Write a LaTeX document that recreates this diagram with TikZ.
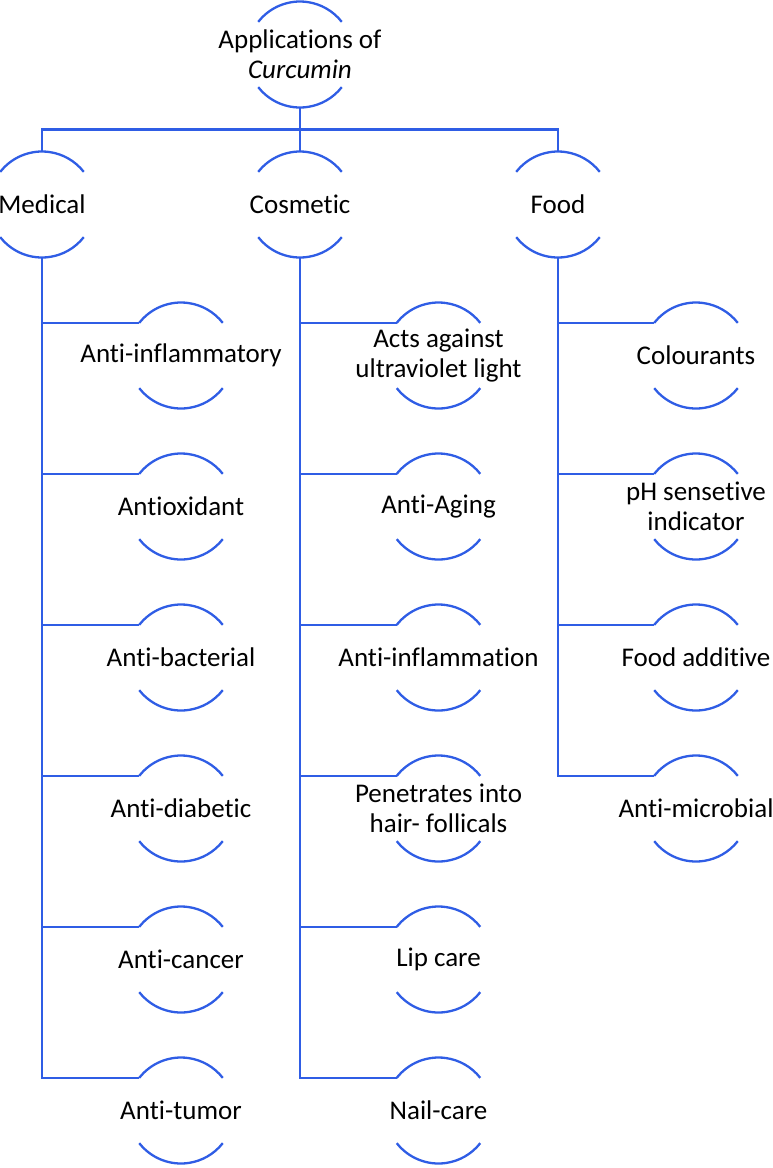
\documentclass[tikz,border=0pt]{standalone}
\usepackage{fontspec}
\setmainfont{Carlito}[Ligatures=NoCommon]
\definecolor{lineblue}{RGB}{47,93,229}
\tikzset{
  ring/.style={circle,draw=none,minimum size=106pt,inner sep=0pt,outer sep=0pt},
  txt/.style={font=\fontsize{27}{30}\selectfont,inner sep=0pt,align=center,text=black},
  conn/.style={draw=lineblue,line width=2.3pt},
}
\newcommand\ringarcs[1]{%
  \draw[conn] (#1.142) arc[start angle=142,end angle=38,radius=53pt];
  \draw[conn] (#1.218) arc[start angle=218,end angle=322,radius=53pt];}
\begin{document}
\begin{tikzpicture}[x=1pt,y=1pt]
\useasboundingbox (0,0) rectangle (773,-1168);
% root and categories
\node[ring,label={[txt]center:{Applications of\\\itshape Curcumin}}] (root) at (300,-54.5) {};
\node[ring,label={[txt]center:Medical}] (med) at (42,-204.5) {};
\node[ring,label={[txt]center:Cosmetic}] (cos) at (300,-204.5) {};
\node[ring,label={[txt]center:Food}] (food) at (558,-204.5) {};
\foreach \n in {root,med,cos,food} {\ringarcs{\n}}
\coordinate (j) at (300,-129.5);
\draw[conn] (root.south) -- (j);
\draw[conn] (j) -| (med.north);
\draw[conn] (j) -| (food.north);
\draw[conn] (j) -- (cos.north);
% medical children
\node[ring,label={[txt]center:Anti-inflammatory}] (m1) at (181,-355.5) {};
\node[ring,label={[txt]center:Antioxidant}] (m2) at (181,-506.5) {};
\node[ring,label={[txt]center:Anti-bacterial}] (m3) at (181,-657.5) {};
\node[ring,label={[txt]center:Anti-diabetic}] (m4) at (181,-808.5) {};
\node[ring,label={[txt]center:Anti-cancer}] (m5) at (181,-959.5) {};
\node[ring,label={[txt]center:Anti-tumor}] (m6) at (181,-1110.5) {};
% cosmetic children
\node[ring,label={[txt]center:{Acts against\\ultraviolet light}}] (c1) at (438.5,-355.5) {};
\node[ring,label={[txt]center:Anti-Aging}] (c2) at (438.5,-506.5) {};
\node[ring,label={[txt]center:Anti-inflammation}] (c3) at (438.5,-657.5) {};
\node[ring,label={[txt]center:{Penetrates into\\hair- follicals}}] (c4) at (438.5,-808.5) {};
\node[ring,label={[txt]center:Lip care}] (c5) at (438.5,-959.5) {};
\node[ring,label={[txt]center:Nail-care}] (c6) at (438.5,-1110.5) {};
% food children
\node[ring,label={[txt]center:Colourants}] (f1) at (696,-355.5) {};
\node[ring,label={[txt]center:{pH sensetive\\indicator}}] (f2) at (696,-506.5) {};
\node[ring,label={[txt]center:Food additive}] (f3) at (696,-657.5) {};
\node[ring,label={[txt]center:Anti-microbial}] (f4) at (696,-808.5) {};
\foreach \n in {m1,m2,m3,m4,m5,m6,c1,c2,c3,c4,c5,c6,f1,f2,f3,f4} {\ringarcs{\n}}
\foreach \n in {m1,m2,m3,m4,m5,m6} {\draw[conn] (med.south) |- (\n.142);}
\foreach \n in {c1,c2,c3,c4,c5,c6} {\draw[conn] (cos.south) |- (\n.142);}
\foreach \n in {f1,f2,f3,f4} {\draw[conn] (food.south) |- (\n.142);}
\end{tikzpicture}
\end{document}
